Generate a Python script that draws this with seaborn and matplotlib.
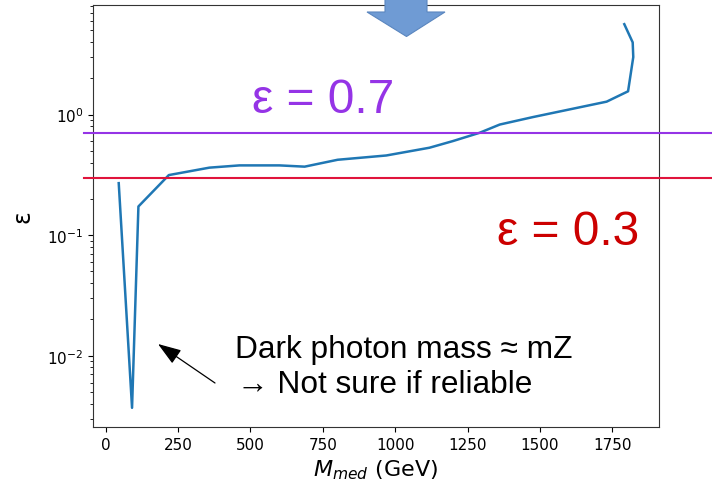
import matplotlib
matplotlib.use("Agg")
import matplotlib.pyplot as plt
from matplotlib.patches import Polygon
import seaborn as sns
import pandas as pd

# Mediator mass scan (GeV) and the corresponding epsilon values
mass_gev = [45, 91, 113, 218, 358, 462, 600, 687, 801, 969, 1118, 1199,
            1291, 1361, 1475, 1730, 1804, 1822, 1820, 1791]
epsilon = [0.270, 0.0037, 0.173, 0.315, 0.363, 0.379, 0.379, 0.370, 0.422,
           0.458, 0.531, 0.603, 0.706, 0.827, 0.953, 1.28, 1.56, 3.0, 3.97, 5.62]

# Reference working points
eps_high = 0.7
eps_low = 0.3

df = pd.DataFrame({"mass": mass_gev, "eps": epsilon})

W, H = 712, 485
fig = plt.figure(figsize=(W / 100, H / 100), dpi=100)
ax = fig.add_axes([93 / W, 1 - 428 / H, (659 - 93) / W, (428 - 6) / H])

sns.lineplot(data=df, x="mass", y="eps", sort=False, estimator=None,
             color="#1f77b4", linewidth=1.8, ax=ax)
ax.set_yscale("log")
ax.set_xticks([0, 250, 500, 750, 1000, 1250, 1500, 1750])
ax.tick_params(labelsize=11)
for s in ax.spines.values():
    s.set_color("#333333")
ax.set_xlabel("$M_{med}$ (GeV)", fontsize=16)
ax.set_ylabel("ε", fontsize=17, labelpad=9)

# Threshold lines running across the whole slide width
ax.axhline(eps_high, xmin=-0.016, xmax=1.1, color="#9534e6", lw=1.5,
           clip_on=False, zorder=3)
ax.axhline(eps_low, xmin=-0.016, xmax=1.1, color="#e0143c", lw=1.5,
           clip_on=False, zorder=3)


def fx(px):
    return px / W


def fy(py):
    return 1 - py / H


txt_font = ["Liberation Sans", "DejaVu Sans"]
fig.text(fx(252), fy(113), f"ε = {eps_high}", fontsize=34.5, color="#9534e6",
         family=txt_font, ha="left", va="baseline")
fig.text(fx(497), fy(245), f"ε = {eps_low}", fontsize=34.5, color="#cc0000",
         family=txt_font, ha="left", va="baseline")

fig.text(fx(235), fy(358), "Dark photon mass ≈ mZ", fontsize=22.8,
         color="black", family=txt_font, ha="left", va="baseline")
fig.text(fx(237), fy(393), "→ Not sure if reliable", fontsize=22.8,
         color="black", family=txt_font, ha="left", va="baseline")

ax.annotate("", xy=(158, H - 345), xycoords="figure pixels",
            xytext=(215, H - 384), textcoords="figure pixels",
            arrowprops=dict(arrowstyle="-|>,head_length=0.72,head_width=0.25",
                            mutation_scale=20, color="black", lw=0.9,
                            shrinkA=0, shrinkB=0),
            annotation_clip=False)

# Block arrow pointing down into the plot
arrow_pts = [(385, -2), (385, 13), (367, 13), (406.5, 37.5), (445, 13),
             (427, 13), (427, -2)]
fig.patches.append(Polygon([(fx(x), fy(y)) for x, y in arrow_pts],
                           closed=True, transform=fig.transFigure,
                           facecolor="#6f9bd4", edgecolor="#5a86bf",
                           lw=0.8, zorder=10))

fig.savefig("out.png", dpi=100)
